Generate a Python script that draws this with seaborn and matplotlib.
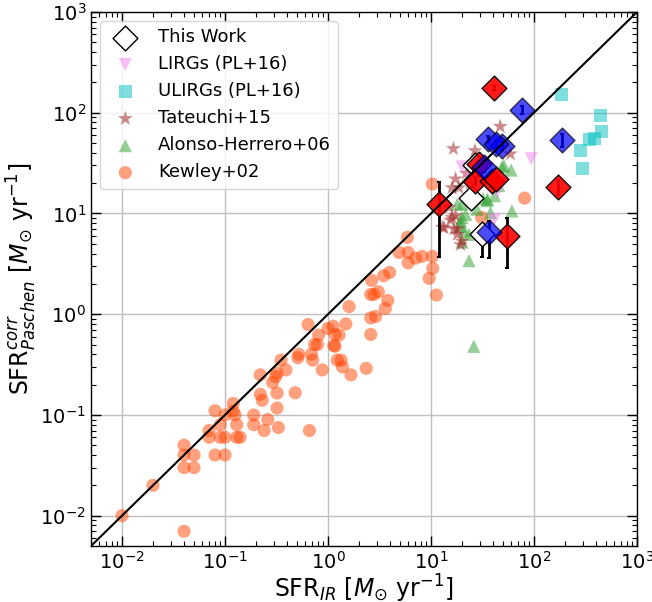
import numpy as np
import pandas as pd
import matplotlib
matplotlib.use("Agg")
import matplotlib.pyplot as plt
from matplotlib.ticker import LogLocator, NullFormatter
import seaborn as sns

# ---------------- data ----------------
kewley_x = [0.01, 0.02, 0.04, 0.04, 0.04, 0.04, 0.05, 0.05, 0.08, 0.07, 0.07, 0.08, 0.09, 0.09,
            0.10, 0.10, 0.10, 0.12, 0.12, 0.125, 0.13, 0.13, 0.14, 0.19, 0.19, 0.24, 0.26, 0.33,
            0.22, 0.22, 0.23, 0.29, 0.31, 0.32, 0.35, 0.39, 0.32, 0.32, 0.48, 0.52, 0.51, 0.64,
            0.66, 0.69, 0.71, 0.74, 0.79, 0.81, 0.88, 1.0, 1.12, 1.14, 1.23, 1.17, 1.28, 1.49,
            1.17, 1.34, 1.38, 1.67, 1.6, 2.35, 2.6, 2.6, 2.9, 2.6, 2.8, 3.08, 2.65, 3.6, 3.8,
            3.47, 3.97, 4.9, 5.9, 6.0, 6.0, 7.1, 8.2, 10.3, 10.4, 9.6, 11.3, 10.3, 81, 31]
kewley_y = [0.01, 0.02, 0.007, 0.05, 0.04, 0.03, 0.04, 0.03, 0.11, 0.07, 0.06, 0.04, 0.06, 0.08,
            0.10, 0.06, 0.04, 0.13, 0.11, 0.10, 0.08, 0.06, 0.06, 0.10, 0.08, 0.07, 0.09, 0.075,
            0.25, 0.16, 0.14, 0.21, 0.24, 0.26, 0.35, 0.28, 0.165, 0.117, 0.166, 0.40, 0.37, 0.79,
            0.07, 0.40, 0.35, 0.50, 0.50, 0.62, 0.28, 0.72, 0.76, 0.49, 0.35, 0.63, 0.62, 0.80,
            0.48, 0.35, 0.30, 0.25, 1.19, 0.29, 0.63, 0.92, 0.95, 1.57, 1.57, 1.67, 2.17, 1.14, 1.37,
            2.41, 2.6, 4.1, 5.8, 3.24, 4.1, 3.6, 3.75, 3.75, 2.85, 2.27, 1.55, 19.6, 14.2, 9.1]

alonso_x = [26, 23.4, 61, 49, 60, 20, 21.7, 19.4, 21, 23.4, 20, 35, 37.8, 41.5, 45.6,
            18, 51, 35.4, 28, 32, 20, 19.4]
alonso_y = [0.48, 3.4, 10.6, 29, 27, 12.4, 9.8, 8.4, 6.7, 6.2, 5.2, 13.4, 10.2, 15, 18.9,
            12.4, 30, 13.9, 11, 14, 9.1, 7.5]

tateuchi_x = [16.5, 47, 26.7, 16, 18.7, 17.3, 13.4, 16, 18, 19.4, 20, 22, 24, 15, 59,
              15.5, 16.7, 18, 12.9, 17.3]
tateuchi_y = [44, 73, 42, 18, 18, 22, 7.2, 9.1, 7.0, 4.9, 5.3, 25, 20, 11.5, 39,
              8.6, 7.0, 6.2, 7.3, 9.5]

ulirg_x = [186, 443, 450, 390, 345, 283, 295]
ulirg_y = [151, 94, 65, 56, 54, 42, 28]

lirg_x = [94, 20, 44, 41, 24]
lirg_y = [35, 29, 16.3, 8.7, 22]

# This Work
white_x = [24.3, 31.6, 27]
white_y = [14.2, 6.2, 30]
white_elo = [1.0, 2.5, 2.0]
white_ehi = [1.0, 1.0, 2.0]

red_x = [41, 12, 172, 55, 29.2, 27, 39, 42.5]
red_y = [175, 12.4, 18.4, 6.0, 31, 21, 21, 22]
red_elo = [8, 8.7, 3, 3.1, 2, 2, 2, 2]
red_ehi = [8, 7.9, 3, 3.1, 2, 2, 2, 2]

blue_x = [77, 188, 35.4, 49, 32.6, 36.5, 43]
blue_y = [107, 54, 55, 47, 28.7, 6.5, 49]
blue_elo = [10, 8, 4, 4, 3, 2.85, 4]
blue_ehi = [10, 8, 4, 4, 3, 1.9, 4]

# ---------------- plot ----------------
sns.set_style("ticks", {'xtick.direction': 'in', 'ytick.direction': 'in',
                        'text.color': 'black', 'axes.labelcolor': 'black',
                        'xtick.color': 'black', 'ytick.color': 'black',
                        'axes.edgecolor': 'black'})
plt.rcParams['font.family'] = ['DejaVu Sans']
plt.rcParams['mathtext.fontset'] = 'dejavusans'

fig = plt.figure(figsize=(6.52, 6.02), dpi=100)
ax = fig.add_axes([91/652, 56/602, 546/652, 534/602])
ax.set_xscale('log')
ax.set_yscale('log')

s_small = 90
sns.scatterplot(x=kewley_x, y=kewley_y, marker='o', s=s_small, color='orangered', alpha=0.5,
                edgecolor='none', ax=ax, label='Kewley+02', zorder=2)
sns.scatterplot(x=alonso_x, y=alonso_y, marker='^', s=s_small, color='tab:green', alpha=0.5,
                edgecolor='none', ax=ax, label='Alonso-Herrero+06', zorder=2)
sns.scatterplot(x=tateuchi_x, y=tateuchi_y, marker='*', s=130, color='brown', alpha=0.55,
                edgecolor='none', ax=ax, label='Tateuchi+15', zorder=2)
sns.scatterplot(x=ulirg_x, y=ulirg_y, marker='s', s=s_small, color='c', alpha=0.5,
                edgecolor='none', ax=ax, label='ULIRGs (PL+16)', zorder=2)
sns.scatterplot(x=lirg_x, y=lirg_y, marker='v', s=s_small, color='violet', alpha=0.5,
                edgecolor='none', ax=ax, label='LIRGs (PL+16)', zorder=2)

lims = [0.005, 1000]
ax.plot(lims, lims, color='black', lw=1.5, zorder=6)

for xs, ys, lo, hi in [(white_x, white_y, white_elo, white_ehi),
                       (red_x, red_y, red_elo, red_ehi),
                       (blue_x, blue_y, blue_elo, blue_ehi)]:
    ax.errorbar(xs, ys, yerr=[lo, hi], fmt='none', ecolor='black', elinewidth=2,
                capsize=1.5, capthick=1.5, zorder=4)

sns.scatterplot(x=white_x, y=white_y, marker='D', s=160, color='white', edgecolor='black',
                linewidth=1, ax=ax, label='This Work', zorder=5)
sns.scatterplot(x=red_x, y=red_y, marker='D', s=160, color='red', alpha=0.9, edgecolor='black',
                linewidth=1, ax=ax, zorder=5)
sns.scatterplot(x=blue_x, y=blue_y, marker='D', s=160, color='blue', alpha=0.7, edgecolor='black',
                linewidth=1, ax=ax, zorder=5)

ax.set_xlim(lims)
ax.set_ylim(lims)
for axis in (ax.xaxis, ax.yaxis):
    axis.set_major_locator(LogLocator(base=10, numticks=20))
    axis.set_minor_locator(LogLocator(base=10, subs=np.arange(2, 10), numticks=100))
    axis.set_minor_formatter(NullFormatter())
ax.grid(True, which='major', color='0.75', lw=1)
ax.tick_params(which='both', direction='in', top=True, right=True, bottom=True, left=True,
               labelsize=14)
ax.tick_params(which='major', length=7, width=1)
ax.tick_params(which='minor', length=3.5, width=0.8)
for sp in ax.spines.values():
    sp.set_color('black')
    sp.set_linewidth(1)

ax.set_xlabel(r'SFR$_{IR}$ [$M_{\odot}$ yr$^{-1}$]', fontsize=17, labelpad=0)
ax.set_ylabel(r'SFR$^{corr}_{Paschen}$ [$M_{\odot}$ yr$^{-1}$]', fontsize=17, labelpad=1)

handles, labels = ax.get_legend_handles_labels()
order = ['This Work', 'LIRGs (PL+16)', 'ULIRGs (PL+16)', 'Tateuchi+15', 'Alonso-Herrero+06', 'Kewley+02']
hmap = dict(zip(labels, handles))
ax.legend([hmap[l] for l in order], order, loc='upper left', fontsize=13, frameon=True)

fig.savefig('out.png', dpi=100)
